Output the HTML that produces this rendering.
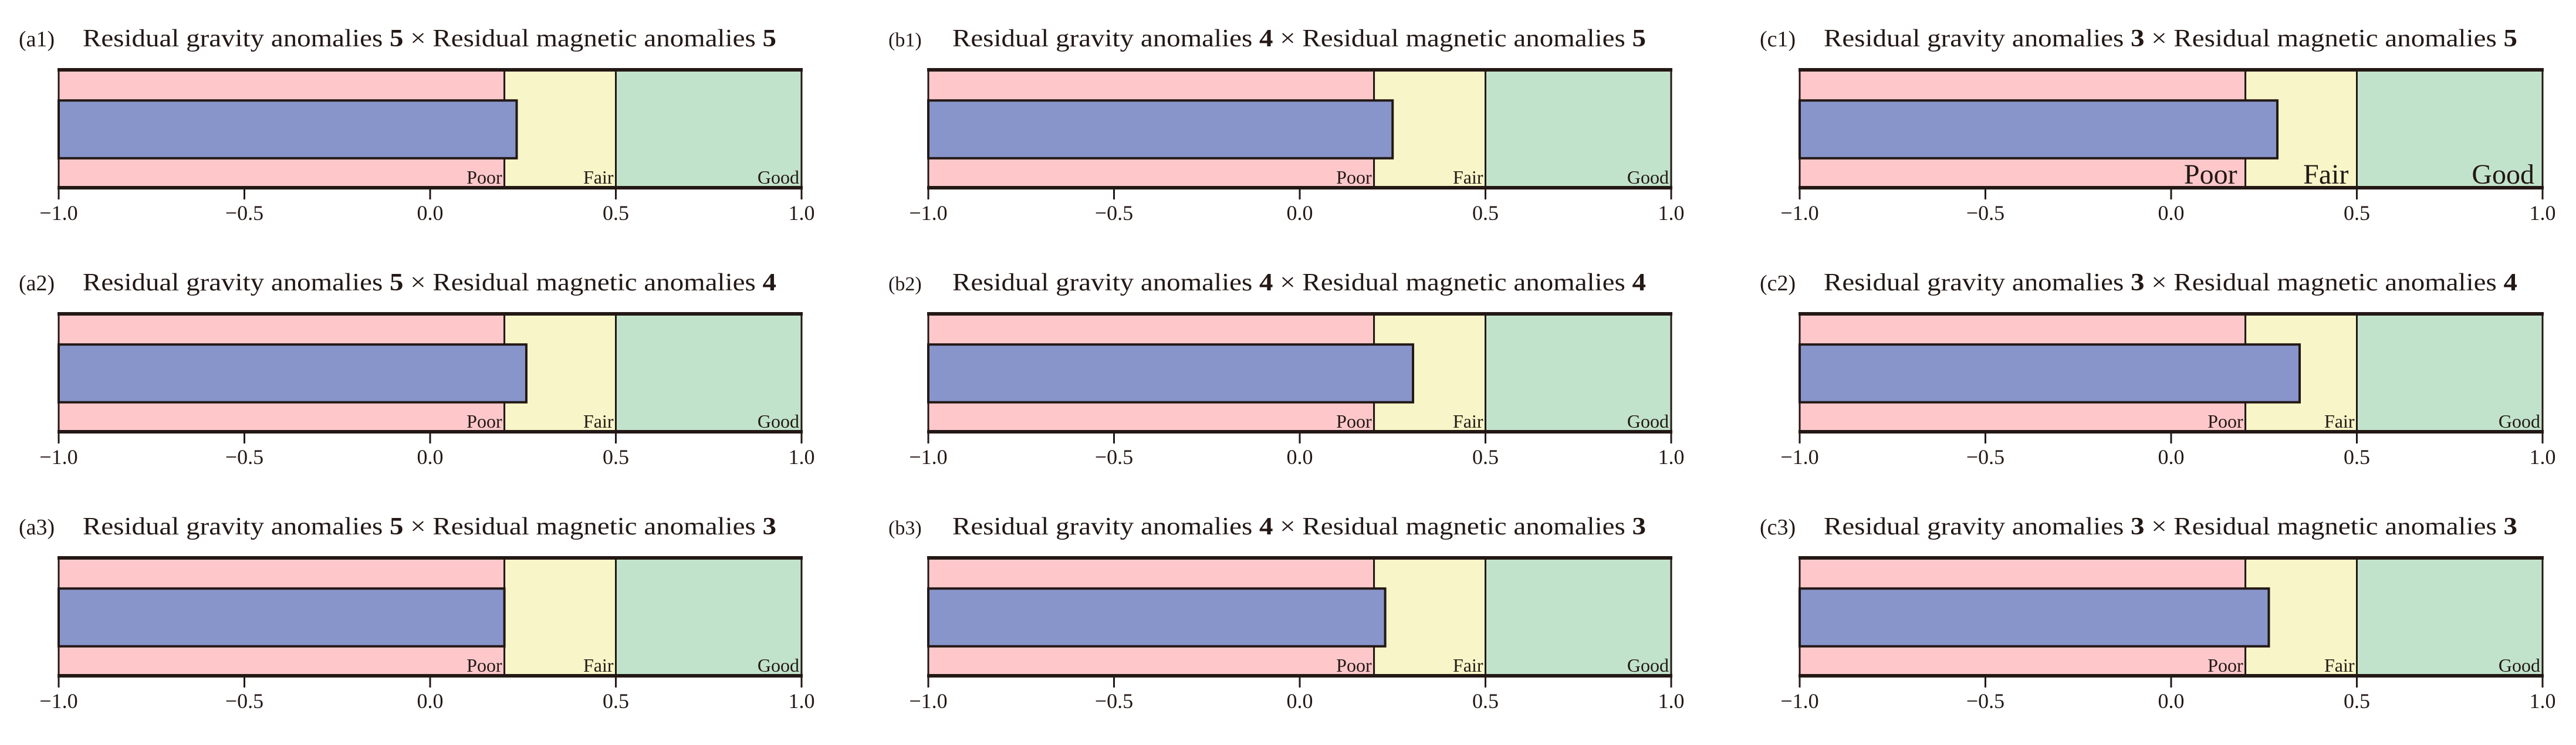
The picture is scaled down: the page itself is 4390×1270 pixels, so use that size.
<!DOCTYPE html>
<html><head><meta charset="utf-8">
<style>
html,body{margin:0;padding:0;background:#fff;}
svg{display:block;}
text{font-family:"Liberation Serif",serif;fill:#231815;}
</style></head>
<body>
<svg id="chart" width="4390" height="1270" viewBox="0 0 4390 1270" xmlns="http://www.w3.org/2000/svg"></svg>
<script>
const panelLabels = ["a1","b1","c1","a2","b2","c2","a3","b3","c3"];
const gravityLevels = [5,4,3,5,4,3,5,4,3];
const magneticLevels = [5,5,5,4,4,4,3,3,3];
const scores = [0.233,0.25,0.286,0.259,0.305,0.346,0.2,0.23,0.263];
const thresholds = [-1.0,0.2,0.5,1.0];
const zoneNames = ["Poor","Fair","Good"];
const tickValues = [-1.0,-0.5,0.0,0.5,1.0];
const tickLabels = ["\u22121.0","\u22120.5","0.0","0.5","1.0"];

const NS="http://www.w3.org/2000/svg";
const svg=document.getElementById('chart');
const colLeft=[100,1582,3067];
const rowTop=[119,535,951];
const W=1266,H=201;
const zoneColors=["#fec8cb","#f8f6c8","#c2e3cb"];
function mk(tag,attrs,parent){const e=document.createElementNS(NS,tag);for(const k in attrs)e.setAttribute(k,attrs[k]);(parent||svg).appendChild(e);return e;}

panelLabels.forEach((lab,i)=>{
  const c=i%3,r=Math.floor(i/3);
  const x0=colLeft[c],y0=rowTop[r];
  const sx=v=>x0+(v+1)/2*W;
  const g=mk('g',{});
  
  
  const pl=mk('text',{x:x0-68,y:y0-40,'font-size':(c==1?34:38)},g);
  pl.textContent='('+lab+')';
  
  
  const t=mk('text',{x:x0+41,y:y0-40,'font-size':42,textLength:1182,lengthAdjust:'spacingAndGlyphs'},g);
  
  
  t.appendChild(document.createTextNode('Residual gravity anomalies '));
  const b1=mk('tspan',{'font-weight':'bold'},t);b1.textContent=gravityLevels[i];
  t.appendChild(document.createTextNode(' \u00d7 Residual magnetic  anomalies '));
  const b2=mk('tspan',{'font-weight':'bold'},t);b2.textContent=magneticLevels[i];
  for(let z=0;z<3;z++){
    const zr=mk('rect',{x:sx(thresholds[z]),y:y0,width:sx(thresholds[z+1])-sx(thresholds[z]),height:H,fill:zoneColors[z],stroke:'#231815','stroke-width':3},g);
    
    
  }
  const bar=mk('rect',{x:sx(-1),y:y0+H*0.26,width:sx(scores[i])-sx(-1),height:H*0.49,fill:'#8895cb',stroke:'#231815','stroke-width':4},g);
  
  
  const fs=(i==2)?48:32;
  const gap=(i==2)?14:4;
  for(let z=0;z<3;z++){
    const zl=mk('text',{x:sx(thresholds[z+1])-gap,y:y0+H-7,'font-size':fs,'text-anchor':'end'},g);
    zl.textContent=zoneNames[z];
    
    
  }
  mk('line',{x1:sx(-1)-2,x2:sx(1)+2,y1:y0,y2:y0,stroke:'#231815','stroke-width':6},g);
  mk('line',{x1:sx(-1)-2,x2:sx(1)+2,y1:y0+H,y2:y0+H,stroke:'#231815','stroke-width':6},g);
  tickValues.forEach((v,k)=>{
    mk('line',{x1:sx(v),x2:sx(v),y1:y0+H,y2:y0+H+20,stroke:'#231815','stroke-width':3},g);
    const tl=mk('text',{x:sx(v),y:y0+H+55,'font-size':36,'text-anchor':'middle'},g);
    tl.textContent=tickLabels[k];
    
    
  });
  svg.appendChild(g);
});
</script>
</body></html>
